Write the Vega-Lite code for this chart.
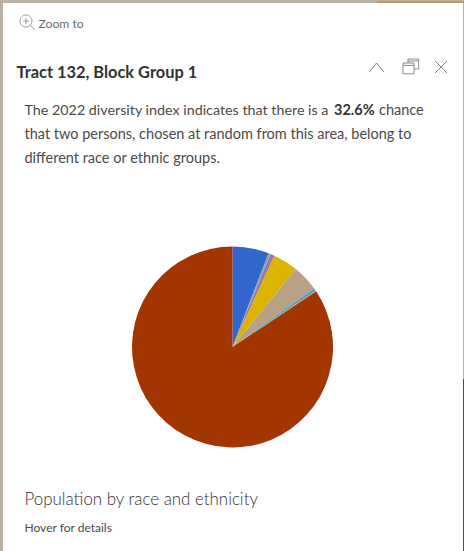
{
"$schema":"https://vega.github.io/schema/vega-lite/v6.json",
"width":464,"height":551,"padding":0,
"autosize":{"type":"fit","contains":"padding"},
"background":"#b9b2a4",
"view":{"stroke":null},
"datasets":{
"slices":[
{"group":"Asian","pct":5.85,"rank":1},
{"group":"Pacific Islander","pct":0.3,"rank":2},
{"group":"American Indian","pct":0.7,"rank":3},
{"group":"Other race","pct":4.0,"rank":4},
{"group":"Multiple races","pct":4.25,"rank":5},
{"group":"Black","pct":0.45,"rank":6},
{"group":"Not Hispanic, other","pct":0.1,"rank":7},
{"group":"White","pct":84.35,"rank":8}
]},
"layer":[
{"data":{"values":[{"p":"edge right lower"}]},"mark":{"type":"rect","x":462,"x2":464,"y":378,"y2":551,"fill":"#8f3326"},"encoding":{}},
{"data":{"values":[{"p":"edge top right"}]},"mark":{"type":"rect","x":376,"x2":464,"y":0,"y2":2,"fill":"#c9955c"},"encoding":{}},
{"data":{"values":[{"p":"panel"}]},"mark":{"type":"rect","x":2,"x2":462,"y":2,"y2":550,"fill":"#ffffff"},"encoding":{}},
{"data":{"values":[{"p":"divider"}]},"mark":{"type":"rule","x":2,"x2":462,"y":43.5,"stroke":"#cfcfcf","strokeWidth":1},"encoding":{}},
{"data":{"name":"slices"},
"mark":{"type":"arc","x":231.5,"y":346,"outerRadius":100.5,"innerRadius":0,"tooltip":true},
"encoding":{
"theta":{"field":"pct","type":"quantitative","stack":true},
"order":{"field":"rank","type":"ordinal"},
"color":{"field":"group","type":"nominal","legend":null,"sort":null,
"scale":{"domain":["Asian","Pacific Islander","American Indian","Other race","Multiple races","Black","Not Hispanic, other","White"],
"range":["#3366cc","#6fb3a8","#9c78a8","#dcb400","#b9a186","#4d9fc4","#b8c43c","#a33500"]}}
}},
{"data":{"values":[{"t":"Zoom to"}]},"mark":{"type":"text","x":37.5,"y":23,"align":"left","baseline":"middle","font":"Lato","fontSize":12.2,"fill":"#6e6e6e"},"encoding":{"text":{"field":"t"}}},
{"data":{"values":[{"t":"Tract 132, Block Group 1"}]},"mark":{"type":"text","x":15.5,"y":72,"align":"left","baseline":"middle","font":"Lato","fontSize":16.4,"fontWeight":700,"fill":"#323232"},"encoding":{"text":{"field":"t"}}},
{"data":{"values":[{"t":"The 2022 diversity index indicates that there is a"}]},"mark":{"type":"text","x":23.5,"y":110,"align":"left","baseline":"middle","font":"Lato","fontSize":14.3,"fill":"#4a4a4a"},"encoding":{"text":{"field":"t"}}},
{"data":{"values":[{"t":"32.6%"}]},"mark":{"type":"text","x":333,"y":110,"align":"left","baseline":"middle","font":"Lato","fontSize":14.5,"fontWeight":700,"fill":"#323232"},"encoding":{"text":{"field":"t"}}},
{"data":{"values":[{"t":"chance"}]},"mark":{"type":"text","x":378,"y":110,"align":"left","baseline":"middle","font":"Lato","fontSize":14.5,"fill":"#4a4a4a"},"encoding":{"text":{"field":"t"}}},
{"data":{"values":[{"t":"that two persons, chosen at random from this area, belong to"}]},"mark":{"type":"text","x":23.5,"y":134,"align":"left","baseline":"middle","font":"Lato","fontSize":14.5,"fill":"#4a4a4a"},"encoding":{"text":{"field":"t"}}},
{"data":{"values":[{"t":"different race or ethnic groups."}]},"mark":{"type":"text","x":23.5,"y":158,"align":"left","baseline":"middle","font":"Lato","fontSize":14.5,"fill":"#4a4a4a"},"encoding":{"text":{"field":"t"}}},
{"data":{"values":[{"t":"Population by race and ethnicity"}]},"mark":{"type":"text","x":23.5,"y":499,"align":"left","baseline":"middle","font":"Lato","fontSize":16.9,"fontWeight":300,"fill":"#323232"},"encoding":{"text":{"field":"t"}}},
{"data":{"values":[{"t":"Hover for details"}]},"mark":{"type":"text","x":23.5,"y":527,"align":"left","baseline":"middle","font":"Lato","fontSize":12,"fill":"#4a4a4a"},"encoding":{"text":{"field":"t"}}},
{"data":{"values":[{"i":"zoom"}]},"mark":{"type":"point","x":26,"y":22,"size":256,"filled":false,"stroke":"#6e6e6e","strokeWidth":1,"shape":"M-0.125,-1 A0.75,0.75 0 1 1 -0.125,0.5 A0.75,0.75 0 1 1 -0.125,-1 Z M0.4,0.3 L1,0.875 M-0.125,-0.625 L-0.125,0.125 M-0.5,-0.25 L0.25,-0.25"},"encoding":{}},
{"data":{"values":[{"i":"collapse"}]},"mark":{"type":"point","x":375.5,"y":66,"size":256,"filled":false,"stroke":"#4a4a4a","strokeWidth":1,"shape":"M-0.9,0.6 L0,-0.5 L0.9,0.6"},"encoding":{}},
{"data":{"values":[{"i":"dock"}]},"mark":{"type":"point","x":410,"y":66,"size":256,"filled":false,"stroke":"#5a5a5a","strokeWidth":1,"shape":"M-1,-0.5 H0.375 V0.85 H-1 Z M-1,-0.2 H0.375 M-0.375,-0.5 V-1 H0.96 V0.25 H0.375 M-0.375,-0.75 H0.96"},"encoding":{}},
{"data":{"values":[{"i":"close"}]},"mark":{"type":"point","x":440,"y":66,"size":256,"filled":false,"stroke":"#4a4a4a","strokeWidth":1,"shape":"M-0.75,-0.75 L0.75,0.75 M0.75,-0.75 L-0.75,0.75"},"encoding":{}}
]
}
